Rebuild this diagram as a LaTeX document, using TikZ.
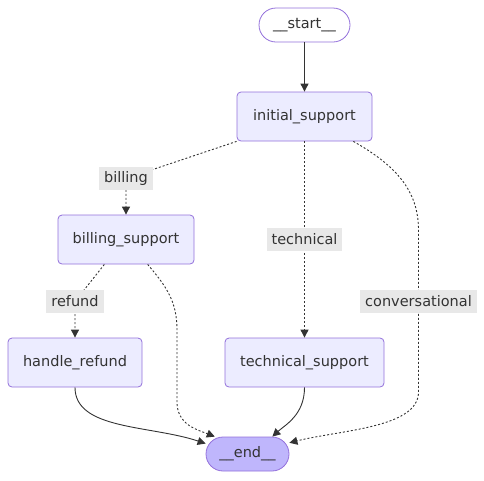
\documentclass[tikz,border=0pt]{standalone}
\usepackage{fontspec}
\setmainfont{DejaVu Sans}
\usepackage{tikz}
\usetikzlibrary{arrows.meta}

\definecolor{nodefill}{HTML}{ECECFF}
\definecolor{nodeline}{HTML}{9370DB}
\definecolor{endfill}{HTML}{BFB6FC}
\definecolor{labelfill}{HTML}{E8E8E8}
\definecolor{ink}{HTML}{333333}

\begin{document}
\begin{tikzpicture}[x=1pt,y=-1pt,>={Triangle[length=8pt,width=8pt]},
  font=\fontsize{14.5}{17}\selectfont,text=ink,
  main node/.style={rectangle,rounded corners=4pt,fill=nodefill,draw=nodeline,line width=0.8pt,
        minimum height=49pt,inner sep=0pt},
  start node/.style={main node,fill=white,rounded corners=17pt,minimum height=34pt},
  end node/.style={main node,fill=endfill,rounded corners=17pt,minimum height=34pt},
  label node/.style={rectangle,fill=labelfill,minimum height=23pt,inner xsep=5pt,inner ysep=0pt},
  plain edge/.style={draw=ink,line width=0.9pt,->},
  cond edge/.style={plain edge,dash pattern=on 2pt off 2pt}]
  \useasboundingbox (0,0) rectangle (484,480);

  \node[start node,minimum width=91pt] (start) at (304.5,25) {\_\_start\_\_};
  \node[main node,minimum width=135pt] (initial) at (304.5,116.5) {initial\_support};
  \node[main node,minimum width=136pt] (billing) at (126,239.5) {billing\_support};
  \node[main node,minimum width=134pt] (refund) at (75,362.5) {handle\_refund};
  \node[main node,minimum width=159pt] (technical) at (304.5,362.5) {technical\_support};
  \node[end node,minimum width=83pt] (end) at (247.5,454) {\_\_end\_\_};

  \coordinate (billing lbl) at (126,178.5);
  \coordinate (technical lbl) at (304.5,239.5);
  \coordinate (refund lbl) at (75,301.5);
  \coordinate (conv lbl) at (418.5,301.5);

  \path (start) edge[plain edge] (initial);

  \draw[cond edge] (initial.south west) -- (billing lbl)
    node[label node] (l1) {billing} -- (billing.north);
  \draw[cond edge] (initial.south) -- (technical lbl)
    node[label node] (l2) {technical} -- (technical.north);
  \draw[cond edge] (initial.-27) .. controls (395,165) and (418.5,190) .. (418.5,230)
    -- (conv lbl) node[label node] (l3) {conversational} -- (418.5,392)
    .. controls (418.5,428) and (340,430) .. (end.15);
  \draw[cond edge] (billing.-131) -- (refund lbl)
    node[label node] (l4) {refund} -- (refund.north);
  \draw[cond edge] (billing.-49) .. controls (165,285) and (177,300) .. (177,330)
    -- (177,402) .. controls (177,425) and (198,430) .. (end.152);

  \draw[plain edge] (refund.south) .. controls (75,430) and (150,425) .. (end.166);
  \draw[plain edge] (technical.south) .. controls (304.5,415) and (285,425) .. (end.35);
\end{tikzpicture}
\end{document}
